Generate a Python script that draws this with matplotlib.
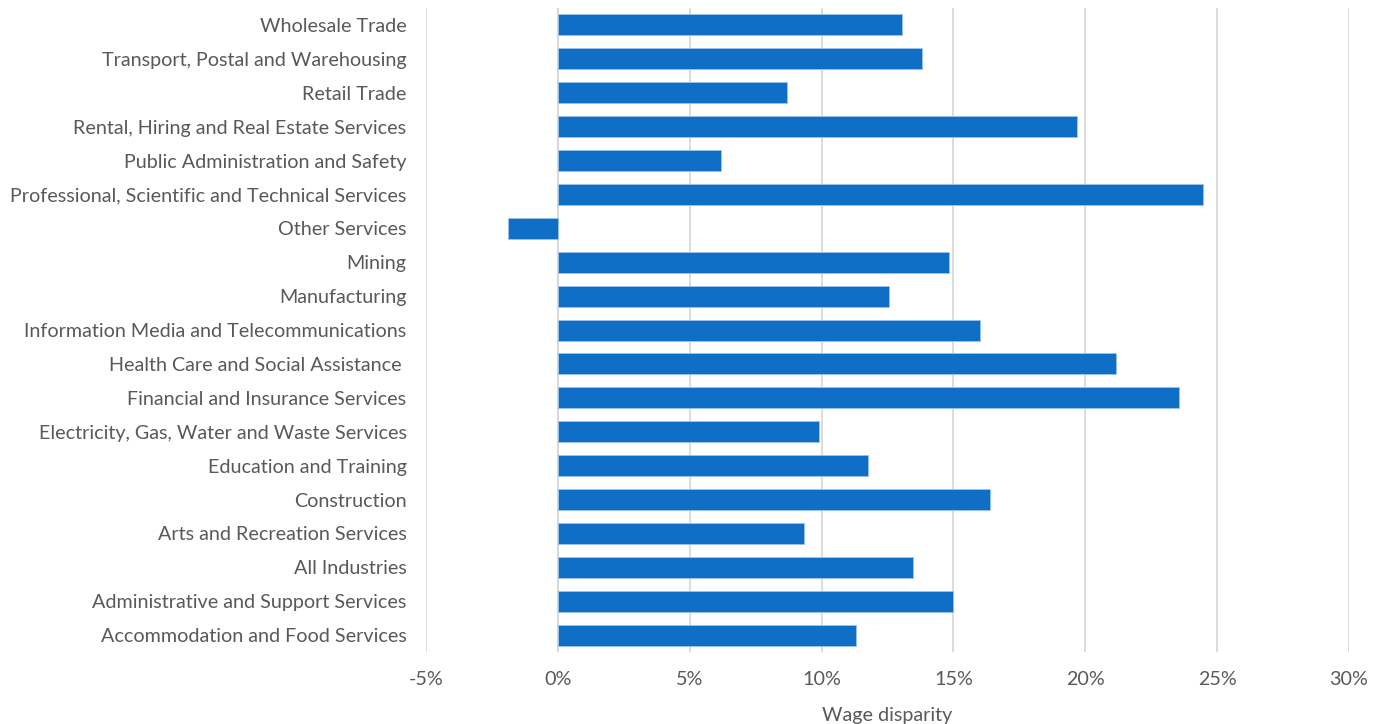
import matplotlib
matplotlib.use("Agg")
import matplotlib.pyplot as plt
from matplotlib.ticker import FuncFormatter

# industries, bottom to top as in the chart
industries = [
    "Accommodation and Food Services",
    "Administrative and Support Services",
    "All Industries",
    "Arts and Recreation Services",
    "Construction",
    "Education and Training",
    "Electricity, Gas, Water and Waste Services",
    "Financial and Insurance Services",
    "Health Care and Social Assistance ",
    "Information Media and Telecommunications",
    "Manufacturing",
    "Mining",
    "Other Services",
    "Professional, Scientific and Technical Services",
    "Public Administration and Safety",
    "Rental, Hiring and Real Estate Services",
    "Retail Trade",
    "Transport, Postal and Warehousing",
    "Wholesale Trade",
]
# wage disparity (%)
disparity = [11.3, 15.0, 13.45, 9.35, 16.4, 11.75, 9.9, 23.55, 21.15, 16.0,
             12.55, 14.85, -1.9, 24.45, 6.2, 19.7, 8.7, 13.8, 13.05]

plt.rcParams['font.family'] = ['Lato', 'DejaVu Sans']

fig = plt.figure(figsize=(13.84, 7.24), dpi=100)
ax = fig.add_axes([0.3078, 0.0994, 0.6669, 0.8895])

y = range(len(industries))
ax.barh(y, disparity, height=0.62, color='#0f6fc6', edgecolor='#9dc3e6', linewidth=0.6, zorder=3)

ax.set_xlim(-5, 30)
ax.set_ylim(-0.5, len(industries) - 0.5)
ax.set_xticks([-5, 0, 5, 10, 15, 20, 25, 30])
ax.xaxis.set_major_formatter(FuncFormatter(lambda v, p: "%d%%" % v))
ax.set_yticks(list(y))
ax.set_yticklabels(industries)

ax.grid(axis='x', color='#d9d9d9', linewidth=1.3, zorder=0)
ax.axvline(0, color='#d9d9d9', linewidth=1.3, zorder=2)
for s in ax.spines.values():
    s.set_visible(False)
ax.tick_params(axis='both', length=0, labelsize=14.2, colors='#595959')
ax.tick_params(axis='y', pad=14)
ax.tick_params(axis='x', pad=14)
ax.set_xlabel("Wage disparity", fontsize=14.2, color='#595959', labelpad=13)

fig.savefig("out.png", dpi=100)
